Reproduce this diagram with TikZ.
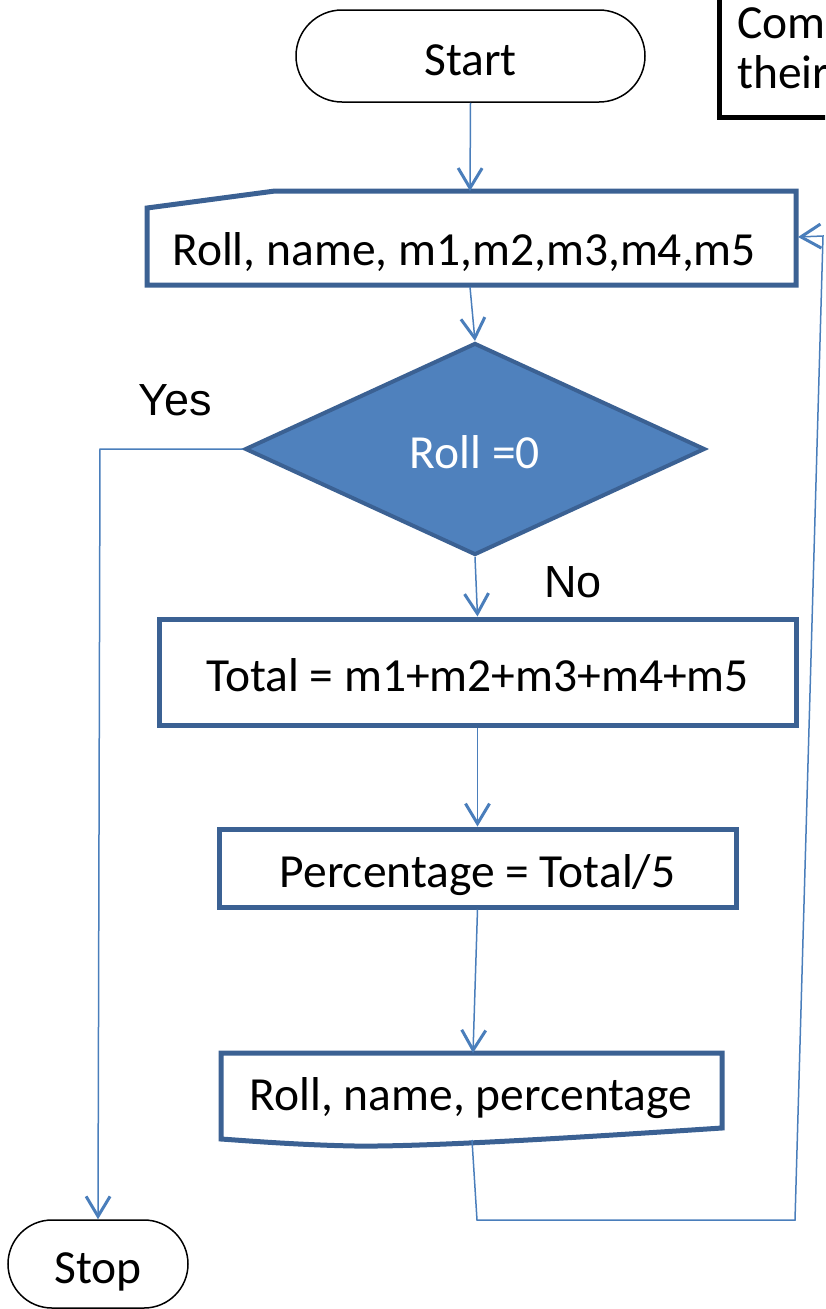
\documentclass[tikz,border=0pt]{standalone}
\usepackage{fontspec}
\setmainfont{Carlito}
\newfontfamily\arialf{Liberation Sans}
\usetikzlibrary{arrows.meta,shapes.geometric}
\definecolor{edgeb}{HTML}{3B6193}
\definecolor{fillb}{HTML}{4F81BD}
\definecolor{connb}{HTML}{4A7EBB}
\begin{document}
\begin{tikzpicture}[x=1pt,y=-1pt,
  txt/.style={font=\fontsize{47.5}{57}\selectfont, inner sep=0pt},
  boxtxt/.style={txt, text height=39pt, text depth=0pt},
  term/.style={boxtxt, draw=black, line width=1.5pt, rectangle},
  boxb/.style={boxtxt, draw=edgeb, line width=5pt, rectangle},
  outl/.style={draw=edgeb, line width=5pt, line join=miter},
  conn/.style={draw=connb, line width=1.5pt, -{Straight Barb[length=20pt,width=24pt,line width=3pt]}},
  yesno/.style={font=\arialf\fontsize{45}{54}\selectfont, inner sep=0pt}]
\useasboundingbox (0,0) rectangle (825,1309);
\clip (0,0) rectangle (825,1309);

% note box (cut at the picture edge)
\draw[line width=5pt] (719,-20) -- (719,117) -- (850,117);
\node[txt, anchor=base west] (note1) at (737,38) {Com};
\node[txt, anchor=base west] (note2) at (737,88) {their};

% start
\node[term, minimum width=349pt, minimum height=92pt, rounded corners=46pt] (start) at (470.5,56) {Start};

% manual input
\draw[outl] (147,208) -- (275,191) -- (796,191) -- (796,285) -- (147,285) -- cycle;
\node[txt, anchor=base] (inp) at (464,265) {Roll, name, m1,m2,m3,m4,m5};
\coordinate (inpN) at (470,191);
\coordinate (inpS) at (470,287);
\coordinate (inpE) at (798,237);

% decision
\node[diamond, boxtxt, draw=edgeb, fill=fillb, line width=4pt, minimum width=460pt, minimum height=212pt,
      text=white] (dec) at (475,449) {Roll =0};

% process boxes
\node[boxb, minimum width=637pt, minimum height=106pt] (total) at (477.5,672) {Total = m1+m2+m3+m4+m5};
\node[boxb, minimum width=517pt, minimum height=78pt] (perc) at (477.5,868) {Percentage = Total/5};

% document
\draw[outl] (221,1053) -- (722,1053) -- (722,1128)
  .. controls (600,1136) and (430,1147) .. (355,1146)
  .. controls (300,1145) and (250,1141) .. (221,1139) -- cycle;
\node[txt, anchor=base] (outd) at (471,1110) {Roll, name, percentage};
\coordinate (docN) at (473,1053);
\coordinate (docS) at (472,1140);

% stop
\node[term, minimum width=180pt, minimum height=88pt, rounded corners=44pt] (stop) at (98,1264) {Stop};

% labels
\node[yesno] (yes) at (175,400) {Yes};
\node[yesno] (no) at (573,582) {No};

% connectors
\coordinate (yc) at (100,449);
\coordinate (l1) at (477,1220);
\coordinate (l2) at (795,1220);
\coordinate (l3) at (823,236);
\draw[conn] (start.south) -- (inpN);
\draw[conn] (inpS) -- (dec.north);
\draw[conn] (dec.south) -- (total.north);
\draw[conn] (total.south) -- (perc.north);
\draw[conn] (perc.south) -- (docN);
\draw[conn] (dec.west) -- (yc) -- (stop.north);
\draw[conn] (docS) -- (l1) -- (l2) -- (l3) -- (inpE);
\end{tikzpicture}
\end{document}
